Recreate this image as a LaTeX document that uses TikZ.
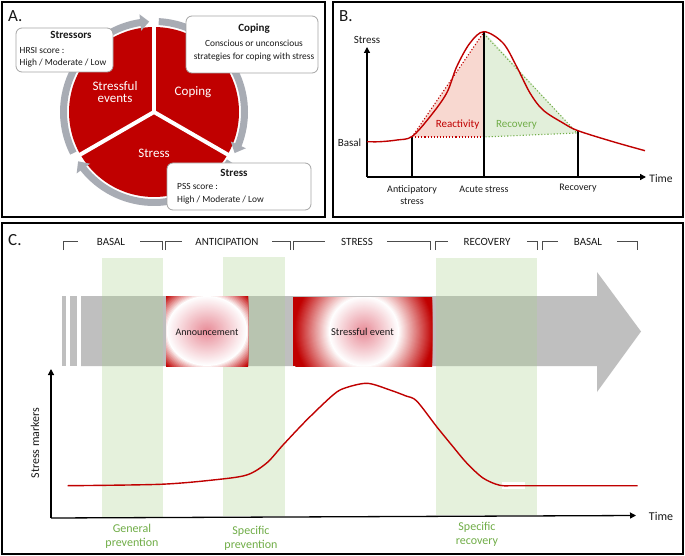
\documentclass[tikz,border=0pt]{standalone}
\usepackage{fontspec}
\setmainfont{Carlito}
\usetikzlibrary{arrows.meta,bending}
\definecolor{redc}{RGB}{192,0,0}
\definecolor{pinkc}{RGB}{232,138,150}
\definecolor{ringc}{RGB}{168,172,180}
\definecolor{greent}{RGB}{112,173,71}
\definecolor{pinkfill}{RGB}{248,216,208}
\definecolor{greenfill}{RGB}{226,239,218}
\definecolor{bandc}{RGB}{169,209,142}
\definecolor{arrowgray}{RGB}{191,191,191}
\definecolor{boxline}{RGB}{165,165,165}
\definecolor{txt}{RGB}{25,25,25}
\newcommand\myfs[1]{\fontsize{#1}{#1}\selectfont}
\begin{document}
\begin{tikzpicture}[x=1pt,y=-1pt,
  every node/.style={inner sep=0pt, text=txt},
  panel/.style={draw=black, line width=2pt},
  ring/.style={draw=ringc, line width=7pt, -{Triangle[width=16pt,length=9pt]}},
  sep/.style={draw=white, line width=4pt},
  tbox/.style={draw=boxline, fill=white, rounded corners=6pt, line width=0.8pt},
  disklabel/.style={text=white, font=\myfs{13}, align=center},
  boxtitle/.style={font=\bfseries\myfs{11}},
  boxtext/.style={font=\myfs{9.4}},
  axis/.style={draw=black, line width=1.3pt, -{Triangle[width=6pt,length=6pt]}},
  vline/.style={draw=black, line width=1.4pt},
  curve/.style={draw=redc, line width=1.4pt},
  blabel/.style={font=\myfs{10}, align=center},
  band/.style={fill=bandc, fill opacity=0.3},
  bracket/.style={draw=black!70, line width=0.6pt},
  phase/.style={font=\myfs{11}},
  glabel/.style={text=greent, font=\myfs{12}, align=center},
  plabel/.style={font=\myfs{17}}
]
\useasboundingbox (0,0) rectangle (685,556);
\fill[white] (0,0) rectangle (685,556);

%================ Panel A
\draw[panel] (2,2) rectangle (325,216.5);
\node[plabel, anchor=west] (labA) at (8,16) {A.};
\begin{scope}[shift={(154,112)}, yscale=-1]
  \fill[redc] (0,0) circle[radius=85];
  \draw[ring] (207:90.5) arc[start angle=207, end angle=93, radius=90.5];
  \draw[ring] (87:90.5) arc[start angle=87, end angle=-27, radius=90.5];
  \draw[ring] (-33:90.5) arc[start angle=-33, end angle=-147, radius=90.5];
  \draw[sep] (0,0) -- (90:99);
  \draw[sep] (0,0) -- (210:99);
  \draw[sep] (0,0) -- (330:99);
\end{scope}
\node[disklabel] (sev) at (115,92) {Stressful\\[-1.5pt]events};
\node[disklabel] (cop) at (193,92) {Coping};
\node[disklabel] (str) at (154,153) {Stress};

\draw[tbox] (16,28) rectangle (113,72);
\node[boxtitle] (b1t) at (71,35) {Stressors};
\node[boxtext, anchor=west] (b1a) at (19.5,50.5) {HRSI score :};
\node[boxtext, anchor=west] (b1b) at (19.5,63.5) {High / Moderate / Low};

\draw[tbox] (186,16) rectangle (318,73);
\node[boxtitle] (b2t) at (254,29) {Coping};
\node[boxtext] (b2a) at (254,43) {Conscious or unconscious};
\node[boxtext] (b2b) at (254,57) {strategies for coping with stress};

\draw[tbox] (167,163) rectangle (311,210);
\node[boxtitle] (b3t) at (234,173) {Stress};
\node[boxtext, anchor=west] (b3a) at (177,186) {PSS score :};
\node[boxtext, anchor=west] (b3b) at (177,200.5) {High / Moderate / Low};

%================ Panel B
\draw[panel] (333,2) rectangle (683,216.5);
\node[plabel, anchor=west] (labB) at (339,16) {B.};
\fill[pinkfill] (412,137) -- (484,32) -- (484,137) -- cycle;
\fill[greenfill] (484,32) -- (577,133) -- (484,137) -- cycle;
\draw[redc, dotted, line width=1.1pt] (412,137) -- (484,32);
\draw[redc, dotted, line width=1.1pt] (412,137) -- (484,137);
\draw[greent, dotted, line width=1.1pt] (484,34) -- (577,133) -- (484,137);
\coordinate (oB) at (367,177);
\coordinate (yB) at (367,47);
\coordinate (xB) at (646,177);
\draw[axis] (oB) -- (yB);
\draw[axis] (oB) -- (xB);
\draw[vline] (412,177) -- (412,137);
\draw[vline] (484,177) -- (484,32);
\draw[vline] (578,177) -- (578,131);
\draw[curve] plot[smooth, tension=0.55] coordinates {(367,141.7) (380,141.7) (397,140) (412,136.5) (430,116.7) (446.7,93) (456.7,66.7) (470,43) (484,31.7) (503,43) (516.7,66.7) (530,93) (543,110) (563,123) (578,130.7) (613,141.7) (645,150.7)};
\node[font=\myfs{11}] (sB) at (367,39.5) {Stress};
\node[font=\myfs{11.5}] (tB) at (661,178.5) {Time};
\node[font=\myfs{11}] (basB) at (349.5,143) {Basal};
\node[blabel] (antB) at (412,195) {Anticipatory\\[1.5pt]stress};
\node[blabel] (acuB) at (484,189) {Acute stress};
\node[blabel] (recB) at (578,188.5) {Recovery};
\node[text=redc, font=\myfs{11}] (reaB) at (457.5,125) {Reactivity};
\node[text=greent, font=\myfs{11}] (rcvB) at (516.5,125) {Recovery};

%================ Panel C
\draw[panel] (2,222.5) rectangle (683,554);
\node[plabel, anchor=west] (labC) at (8,240) {C.};
% phase brackets
\draw[bracket] (63,250) -- (63,241) -- (78,241);
\draw[bracket] (140,241) -- (162,241) -- (162,250);
\node[phase] (ph1) at (111,242) {BASAL};
\draw[bracket] (165,250) -- (165,241) -- (182,241);
\draw[bracket] (272,241) -- (290,241) -- (290,250);
\node[phase] (ph2) at (227,242) {ANTICIPATION};
\draw[bracket] (293,250) -- (293,241) -- (325,241);
\draw[bracket] (387,241) -- (430,241) -- (430,250);
\node[phase] (ph3) at (357,242) {STRESS};
\draw[bracket] (435,250) -- (435,241) -- (448,241);
\draw[bracket] (527,241) -- (537,241) -- (537,250);
\node[phase] (ph4) at (487,242) {RECOVERY};
\draw[bracket] (542,250) -- (542,241) -- (558,241);
\draw[bracket] (617,241) -- (637,241) -- (637,250);
\node[phase] (ph5) at (588,242) {BASAL};
% big gray arrow
\fill[arrowgray] (62,296) rectangle (66,366);
\fill[arrowgray] (70,296) rectangle (77,366);
\fill[arrowgray] (81,296) -- (597,296) -- (597,272) -- (641,331.5) -- (597,392) -- (597,366) -- (81,366) -- cycle;
% green bands
\fill[band] (102,258) rectangle (163,517);
\fill[band] (223,257) rectangle (285,516);
\fill[band] (436,258) rectangle (537,515);
% red event boxes (radial gradients built from rings)
\begin{scope}
  \clip (166,296) rectangle (248,366);
  \fill[redc] (166,296) rectangle (248,366);
  \foreach \i in {0,...,47}{
    \pgfmathsetmacro\t{1.42-\i*0.03}
    \pgfmathsetmacro\p{\t>0.97 ? min(100,(\t-0.97)/0.42*100) : 0}
    \pgfmathsetmacro\q{\t>0.97 ? 0 : (1-\t/0.97)*100}
    \colorlet{tmpc}{pinkc!\q!white}
    \fill[redc!\p!tmpc] (207,331) ellipse[x radius=\t*41.5, y radius=\t*36];
  }
\end{scope}
\node[font=\myfs{10}] (ann) at (207,332) {Announcement};
\begin{scope}
  \clip (293,297) rectangle (432,366);
  \fill[redc] (293,297) rectangle (432,366);
  \foreach \i in {0,...,72}{
    \pgfmathsetmacro\t{2.2-\i*0.03}
    \pgfmathsetmacro\p{\t>1 ? min(100,(\t-1)/1.0*100) : 0}
    \pgfmathsetmacro\q{\t>1 ? 0 : (1-\t)*100}
    \colorlet{tmpc}{pinkc!\q!white}
    \fill[redc!\p!tmpc] (364,331.5) circle[radius=\t*35];
  }
\end{scope}
\node[font=\myfs{10.5}] (evt) at (362.5,332) {Stressful event};
% axes
\coordinate (oC) at (51,518);
\coordinate (yC) at (51,369);
\coordinate (xC) at (636,515.5);
\draw[axis] (oC) -- (yC);
\draw[axis] (oC) -- (xC);
\fill[white] (502,482) rectangle (525,489);
\draw[curve] plot[smooth, tension=0.5] coordinates {(67.7,485.7) (160,484.3) (213,480) (246.7,475) (266.7,463) (283,445) (306.7,420) (333,395) (345,388) (367.3,383.3) (390,390) (406,396) (416.7,401) (436.7,426.7) (453,446.7) (466.7,463) (483,478) (500,485.3) (520,485.7) (637.7,485.7)};
\node[font=\myfs{12}] (tC) at (661,516.5) {Time};
\node[font=\myfs{12}, rotate=90] (smC) at (35,443) {Stress markers};
\node[glabel] (gp) at (132,536.5) {General\\[2pt]prevention};
\node[glabel] (sp) at (251,538) {Specific\\[2pt]prevention};
\node[glabel] (sr) at (477,534.5) {Specific\\[2pt]recovery};
\end{tikzpicture}
\end{document}
